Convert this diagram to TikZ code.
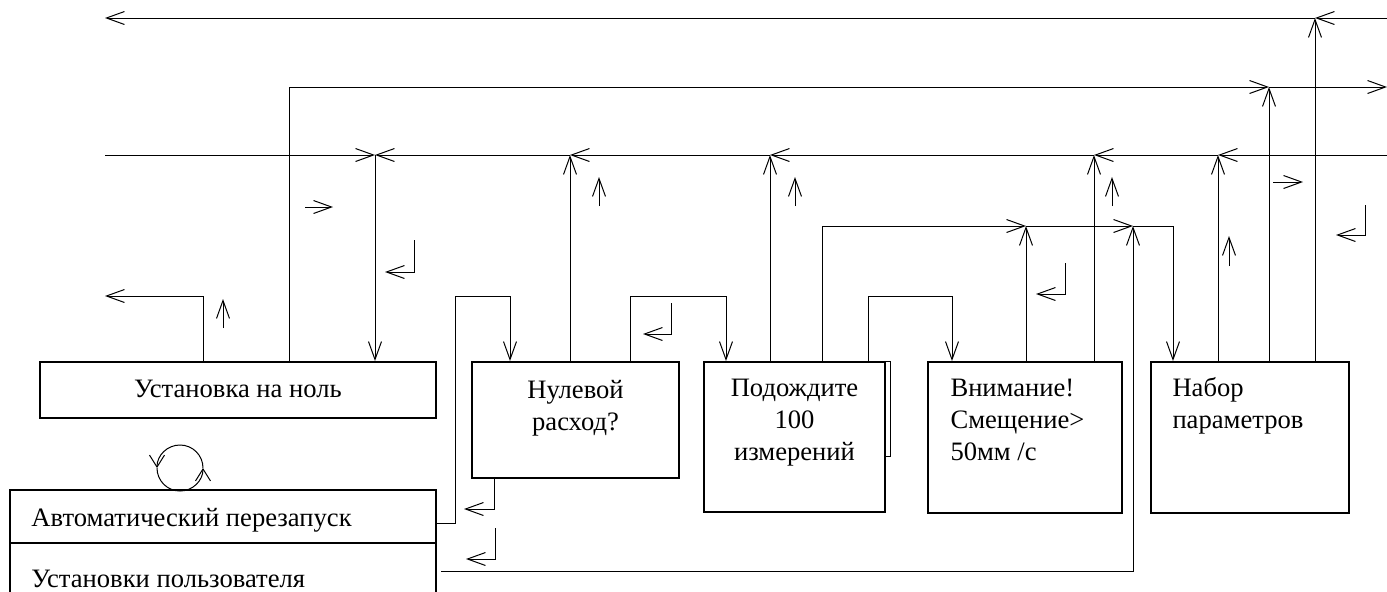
\documentclass[tikz,border=0pt]{standalone}
\usepackage{fontspec}
\setmainfont{Liberation Serif}
\usetikzlibrary{arrows.meta,fit}

\tikzset{
  block/.style={draw, line width=1pt, inner sep=0pt},
  flow/.style={-{Straight Barb[length=9pt,width=6.5pt]}},
  spin/.style={-{Straight Barb[length=6pt,width=7.5pt]}},
  txt/.style={inner sep=0pt, font=\fontsize{13.3}{16}\selectfont},
}

\begin{document}
\begin{tikzpicture}[x=0.5pt, y=-0.5pt, line width=0.5pt]
	\useasboundingbox (0,0) rectangle (1387,591);

	% boxes
	\node[block, fit={(40,362) (436,418)}] (zero) {};
	\node[block, fit={(472,362) (679,478)}] (nullq) {};
	\node[block, fit={(704,362) (885,512)}] (waitm) {};
	\node[block, fit={(928,362) (1122,513)}] (warn) {};
	\node[block, fit={(1151,362) (1349,513)}] (param) {};
	\node[block, fit={(10,490) (436,543)}] (autor) {};
	\node[block, fit={(10,543) (436,600)}] (user) {};
	\draw (waitm.north east) -- ++(4,0) -- ++(0,95) -- ++(-4,0);

	% texts (base = last line)
	\node[txt, anchor=base] (zerot) at (zero.center |- 0,397) {Установка на ноль};
	\node[txt, anchor=base, align=center] (nullqt) at (nullq.north |- 0,430) {Нулевой\\расход?};
	\node[txt, anchor=base, align=center] (waitmt) at (waitm.north |- 0,460) {Подождите\\100\\измерений};
	\node[txt, anchor=base west, align=left] (warnt) at (950,460) {Внимание!\\Смещение>\\50мм /с};
	\node[txt, anchor=base west, align=left] (paramt) at (1172,428) {Набор\\параметров};
	\node[txt, anchor=base west] (autort) at (31,526) {Автоматический перезапуск};
	\node[txt, anchor=base west] (usert) at (31,587) {Установки пользователя};

	% bus coordinates
	\coordinate (aE) at (1387,18);
	\coordinate (aJ) at (1315,18);
	\coordinate (aW) at (105,18);
	\coordinate (bW) at (289,87);
	\coordinate (bJ) at (1269,87);
	\coordinate (bE) at (1387,87);
	\coordinate (cW) at (105,155);
	\coordinate (cE) at (1387,155);
	\coordinate (c0) at (375,155);
	\coordinate (c1) at (570,155);
	\coordinate (c2) at (770,155);
	\coordinate (c3) at (1094,155);
	\coordinate (c4) at (1218,155);
	\coordinate (dW) at (822,226);
	\coordinate (d1) at (1026,226);
	\coordinate (d2) at (1133,226);
	\coordinate (dE) at (1173,226);

	% top bus
	\draw[flow] (aE) -- (aJ);
	\draw[flow] (aJ) -- (aW);
	\draw[flow] (param.north -| aJ) -- (aJ);

	% second bus
	\draw[flow] (zero.north -| bW) -- (bW) -- (bJ);
	\draw[flow] (bJ) -- (bE);
	\draw[flow] (param.north -| bJ) -- (bJ);

	% third bus
	\draw[flow] (cW) -- (c0);
	\draw[flow] (cE) -- (c4);
	\draw[flow] (c4) -- (c3);
	\draw[flow] (c3) -- (c2);
	\draw[flow] (c2) -- (c1);
	\draw[flow] (c1) -- (c0);
	\draw[flow] (c0) -- (zero.north -| c0);
	\draw[flow] (nullq.north -| c1) -- (c1);
	\draw[flow] (waitm.north -| c2) -- (c2);
	\draw[flow] (warn.north -| c3) -- (c3);
	\draw[flow] (param.north -| c4) -- (c4);

	% fourth bus
	\draw[flow] (waitm.north -| dW) -- (dW) -- (d1);
	\draw[flow] (d1) -- (d2);
	\draw[flow] (d2) -- (dE) -- (param.north -| dE);
	\draw[flow] (warn.north -| d1) -- (d1);
	\draw[flow] ([xshift=2pt]user.east) -- (user.east -| d2) -- (d2);

	% links between boxes
	\coordinate (e1) at (203,296);
	\coordinate (e2) at (105,296);
	\draw[flow] (zero.north -| e1) -- (e1) -- (e2);
	\coordinate (f0) at (455,523);
	\coordinate (f1) at (455,296);
	\coordinate (f2) at (510,296);
	\draw[flow] (autor.east |- f0) -- (f0) -- (f1) -- (f2) -- (nullq.north -| f2);
	\coordinate (g1) at (630,296);
	\coordinate (g2) at (726,296);
	\draw[flow] (nullq.north -| g1) -- (g1) -- (g2) -- (waitm.north -| g2);
	\coordinate (h1) at (868,296);
	\coordinate (h2) at (952,296);
	\draw[flow] (waitm.north -| h1) -- (h1) -- (h2) -- (warn.north -| h2);
	\coordinate (k0) at (494,509);
	\coordinate (k1) at (464,509);
	\draw[flow] (nullq.south -| k0) -- (k0) -- (k1);

	% direction marks
	\foreach \x/\a/\b/\l in {414/240/272/385, 671/303/334/643, 1065/263/294/1036, 1365/205/235/1336, 495/528/559/466}
		\draw[flow] (\x,\a) -- (\x,\b) -- (\l,\b);
	\foreach \x/\a/\b in {223/328/299, 599/206/177, 795/206/177, 1112/206/177, 1229/266/236}
		\draw[flow] (\x,\a) -- (\x,\b);
	\foreach \a/\b/\y in {305/333/207, 1273/1303/182}
		\draw[flow] (\a,\y) -- (\b,\y);

	% restart loop
	\draw[spin] (180,445) arc[start angle=270, end angle=180, radius=23];
	\draw[spin] (180,491) arc[start angle=90, end angle=0, radius=23];
	\draw (157,468) arc[start angle=180, end angle=90, radius=23];
	\draw (203,468) arc[start angle=0, end angle=-90, radius=23];
\end{tikzpicture}
\end{document}
